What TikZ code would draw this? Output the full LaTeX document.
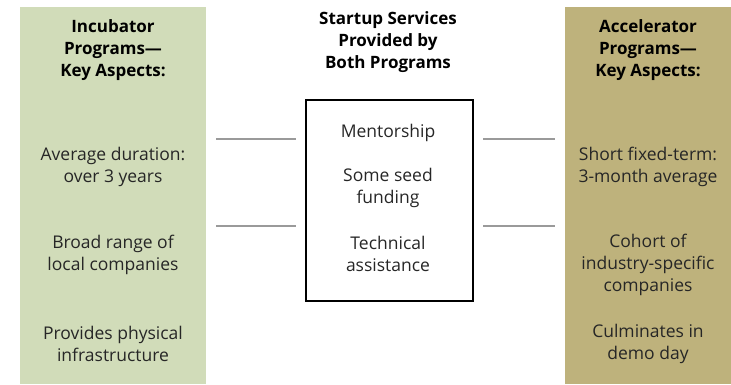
\documentclass[tikz,border=0pt]{standalone}
\usepackage{fontspec}
\setmainfont{Open Sans}
\usepackage{tikz}
\usetikzlibrary{positioning}
\definecolor{IncGreen}{HTML}{D1DCB9}
\definecolor{AccKhaki}{HTML}{BEB27C}
\definecolor{LinkGray}{HTML}{9A9A9A}
\definecolor{BodyText}{HTML}{262626}

\begin{document}
\begin{tikzpicture}[
  x=1pt, y=-1pt,
  panel/.style={draw=none, anchor=north west, inner sep=0pt},
  head/.style={align=center, font=\fontsize{17}{22}\selectfont\bfseries, text=black},
  item/.style={align=center, font=\fontsize{17.5}{22}\selectfont, text=BodyText},
  services/.style={draw=black, line width=2.4pt, anchor=north west, inner sep=0pt},
  link/.style={draw=LinkGray, line width=1.2pt},
]
\useasboundingbox (0,0) rectangle (731,384);
% side panels and middle box
\node[panel, fill=IncGreen, minimum width=186, minimum height=377] (inc) at (20,7) {};
\node[panel, fill=AccKhaki, minimum width=166, minimum height=377] (acc) at (565,7) {};
\node[services, minimum width=167, minimum height=201] (serv) at (305,99) {};

% headings
\node[head] (inchead) at (113,50) {Incubator\\Programs---\\Key Aspects:};
\node[head] (servhead) at (388,42) {Startup Services\\Provided by\\Both Programs};
\node[head] (acchead) at (648,50) {Accelerator\\Programs---\\Key Aspects:};

% incubator
\node[item] (inc1) at (113,167) {Average duration:\\over 3 years};
\node[item] (inc2) at (113,255) {Broad range of\\local companies};
\node[item] (inc3) at (113,344) {Provides physical\\infrastructure};

% shared services
\node[item] (serv1) at (388,133) {Mentorship};
\node[item] (serv2) at (388,188) {Some seed\\funding};
\node[item] (serv3) at (388,254) {Technical\\assistance};

% accelerator
\node[item] (acc1) at (648,167) {Short fixed-term:\\3-month average};
\node[item] (acc2) at (648,265) {Cohort of\\industry-specific\\companies};
\node[item] (acc3) at (648,344) {Culminates in\\demo day};

% connecting lines
\coordinate (l1) at (216,139); \coordinate (l2) at (216,226);
\coordinate (r1) at (555,139); \coordinate (r2) at (555,226);
\draw[link] (l1) -- ([xshift=-9]serv.west |- l1);
\draw[link] (l2) -- ([xshift=-9]serv.west |- l2);
\draw[link] ([xshift=9]serv.east |- r1) -- (r1);
\draw[link] ([xshift=9]serv.east |- r2) -- (r2);
\end{tikzpicture}
\end{document}
